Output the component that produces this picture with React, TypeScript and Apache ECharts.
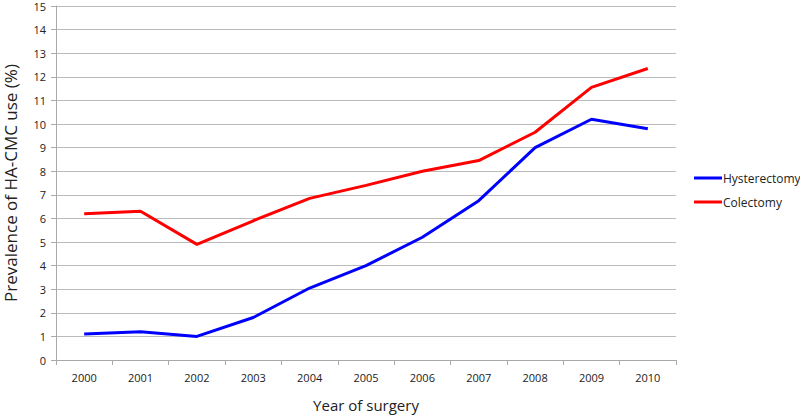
import React, { useEffect, useRef } from "react";
import * as echarts from "echarts";

const years = ["2000", "2001", "2002", "2003", "2004", "2005", "2006", "2007", "2008", "2009", "2010"];
const hysterectomy = [1.1, 1.2, 1.0, 1.8, 3.05, 4.0, 5.2, 6.75, 9.0, 10.2, 9.8];
const colectomy = [6.2, 6.3, 4.9, 5.9, 6.85, 7.4, 8.0, 8.45, 9.65, 11.55, 12.35];

const FONT = "'Open Sans', 'Liberation Sans', sans-serif";

export default function App() {
  const ref = useRef<HTMLDivElement>(null);
  useEffect(() => {
    const chart = echarts.init(ref.current!, undefined, { renderer: "svg" });
    chart.setOption({
      animation: false,
      backgroundColor: "#ffffff",
      textStyle: { fontFamily: FONT },
      grid: { left: 56, right: 124, top: 6, bottom: 56, outerBoundsMode: "none" },
      legend: {
        orient: "vertical",
        left: 694,
        top: 172,
        padding: 0,
        itemWidth: 28,
        itemHeight: 3,
        itemGap: 12,
        icon: "rect",
        textStyle: { fontFamily: FONT, fontSize: 12, color: "#222", padding: [0, 0, 0, -4] },
        data: ["Hysterectomy", "Colectomy"],
      },
      xAxis: {
        type: "category",
        data: years,
        boundaryGap: true,
        name: "Year of surgery",
        nameLocation: "middle",
        nameGap: 37,
        nameTextStyle: { fontFamily: FONT, fontSize: 15, color: "#222" },
        axisLine: { show: true, lineStyle: { color: "#aaa", width: 1 } },
        axisTick: { show: true, length: 5, interval: 0, lineStyle: { color: "#aaa" } },
        axisLabel: { fontFamily: FONT, fontSize: 11, color: "#222", margin: 12, interval: 0 },
      },
      yAxis: {
        type: "value",
        min: 0,
        max: 15,
        interval: 1,
        name: "Prevalence of HA-CMC use (%)",
        nameLocation: "middle",
        nameGap: 37,
        nameTextStyle: { fontFamily: FONT, fontSize: 17, color: "#222" },
        axisLine: { show: true, lineStyle: { color: "#aaa", width: 1 } },
        axisTick: { show: true, length: 5, lineStyle: { color: "#aaa" } },
        axisLabel: { fontFamily: FONT, fontSize: 11, color: "#222", margin: 10 },
        splitLine: { show: true, lineStyle: { color: "#bbbbbb", width: 1 } },
      },
      series: [
        {
          name: "Hysterectomy",
          type: "line",
          data: hysterectomy,
          symbol: "none",
          color: "#0000ff",
          lineStyle: { color: "#0000ff", width: 3 },
        },
        {
          name: "Colectomy",
          type: "line",
          data: colectomy,
          symbol: "none",
          color: "#ff0000",
          lineStyle: { color: "#ff0000", width: 3 },
        },
      ],
    });
    return () => chart.dispose();
  }, []);
  return <div ref={ref} style={{ width: 800, height: 416, position: "absolute", left: 0, top: 0 }} />;
}
